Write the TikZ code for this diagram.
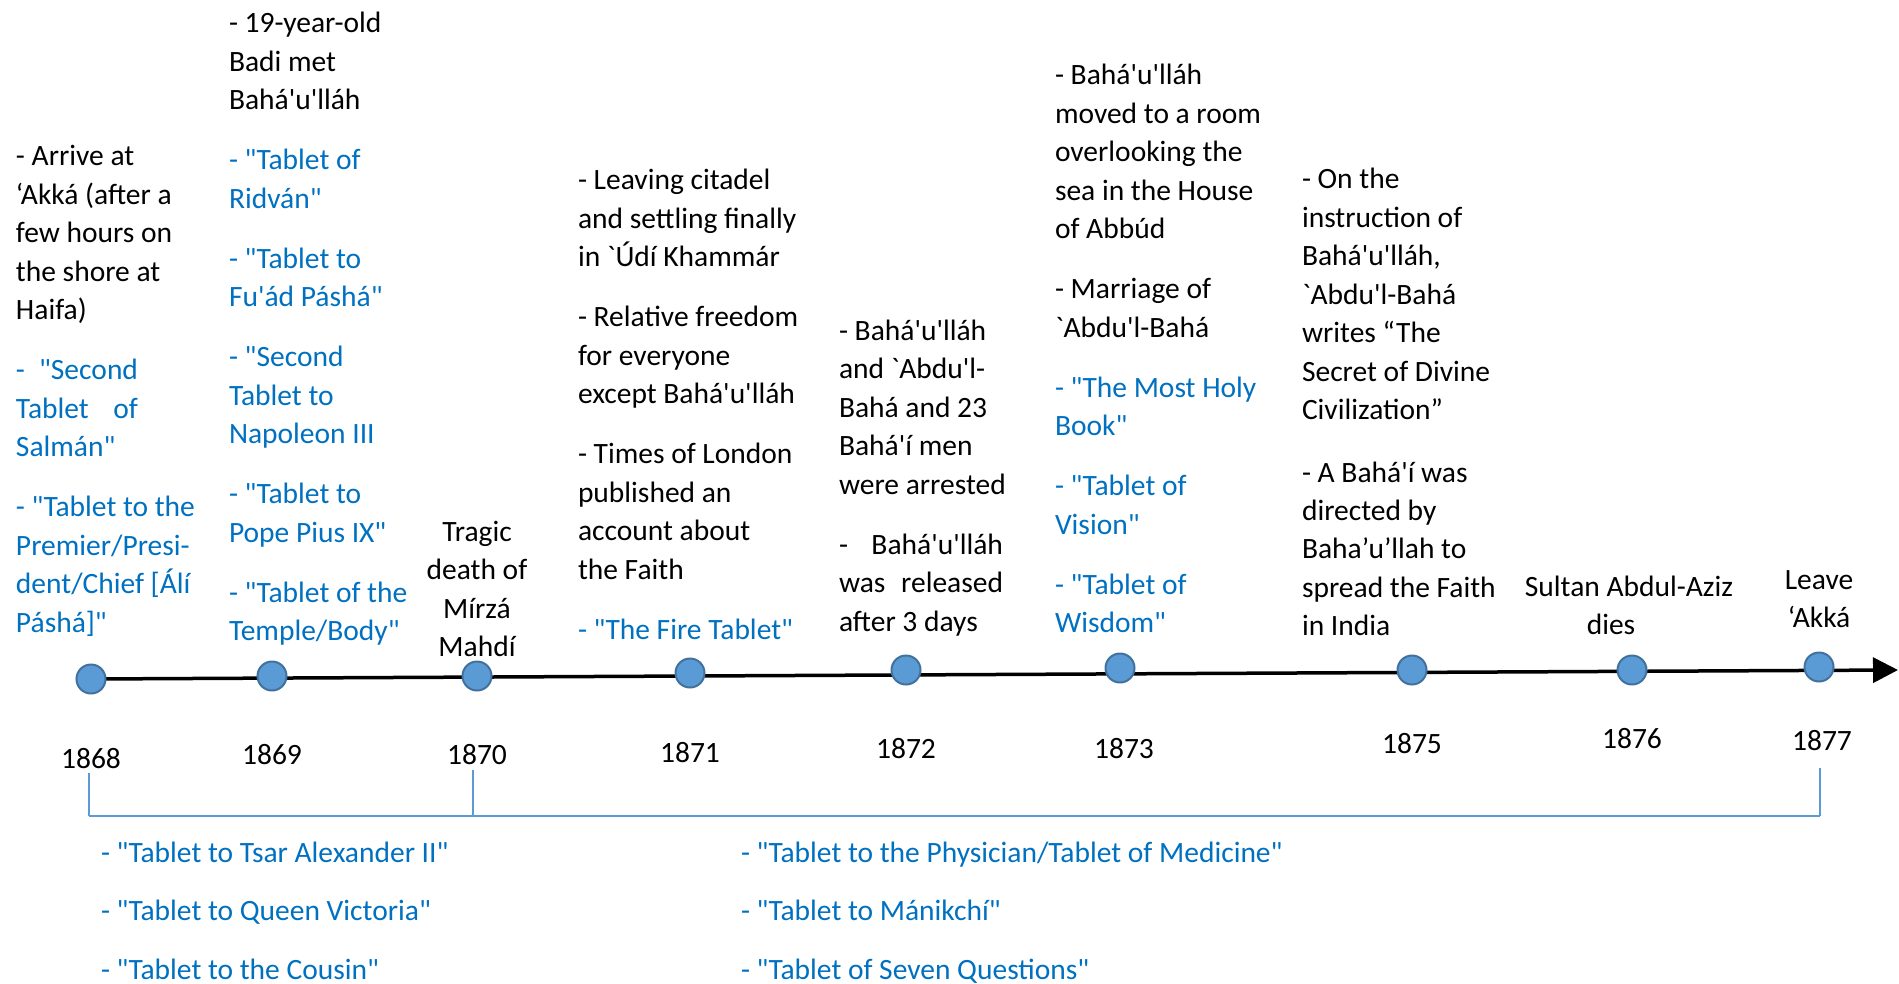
\documentclass[tikz,border=0pt]{standalone}
\usepackage{fontspec}
\setmainfont{Carlito}[Ligatures=TeXOff]
\usetikzlibrary{arrows.meta,backgrounds}
\definecolor{tblue}{HTML}{0070C0}
\definecolor{dotfill}{HTML}{5B9BD5}
\definecolor{dotline}{HTML}{41719C}
\definecolor{brk}{HTML}{5B9BD5}
\newcommand{\mainsz}{\fontsize{14.75pt}{19.25pt}\selectfont}
\newcommand{\pgap}{\\[10.75pt]}
\newcommand{\lblock}[1]{\parbox[t]{250pt}{\mainsz #1}}
\newcommand{\cblock}[1]{\parbox[t]{200pt}{\centering\mainsz #1}}
\tikzset{
  txt/.style={inner sep=0pt, outer sep=0pt, anchor=base west},
  ctxt/.style={inner sep=0pt, outer sep=0pt, anchor=base},
  yr/.style={inner sep=0pt, outer sep=0pt, anchor=base, font=\mainsz},
  bluetxt/.style={txt, text=tblue, font=\mainsz},
  dot/.style={circle, draw=dotline, fill=dotfill, line width=1pt, minimum size=14.5pt, inner sep=0pt},
  timeline/.style={line width=1.75pt, -{Triangle[length=12.5pt,width=12.5pt]}},
  brkv/.style={draw=brk, line width=0.65pt},
  brkh/.style={draw=brk, line width=1.25pt}
}
\begin{document}
\begin{tikzpicture}[x=0.5pt,y=-0.5pt]
\useasboundingbox (0,0) rectangle (1899,984);

% event texts
\node[txt] (t68) at (16,166) {\lblock{- Arrive at\\
‘Akká (after a\\
few hours on\\
the shore at\\
Haifa)\pgap
\color{tblue}\makebox[61pt][s]{-\ \ "Second}\\
\makebox[61pt][s]{Tablet of}\\
Salmán"\pgap
- "Tablet to the\\
Premier/Presi-\\
dent/Chief [Álí\\
Páshá]"}};

\node[txt] (t69) at (229,33) {\lblock{- 19-year-old\\
Badi met\\
Bahá'u'lláh\pgap
\color{tblue}- "Tablet of\\
Ridván"\pgap
- "Tablet to\\
Fu'ád Páshá"\pgap
- "Second\\
Tablet to\\
Napoleon III\pgap
- "Tablet to\\
Pope Pius IX"\pgap
- "Tablet of the\\
Temple/Body"}};

\node[ctxt] (t70) at (477,541) {\cblock{Tragic\\
death of\\
Mírzá\\
Mahdí}};

\node[txt] (t71) at (578,190) {\lblock{- Leaving citadel\\
and settling finally\\
in `Údí Khammár\pgap
- Relative freedom\\
for everyone\\
except Bahá'u'lláh\pgap
- Times of London\\
published an\\
account about\\
the Faith\pgap
\color{tblue}- "The Fire Tablet"}};

\node[txt] (t72) at (839,340) {\lblock{- Bahá'u'lláh\\
and `Abdu'l-\\
Bahá and 23\\
Bahá'í men\\
were arrested\pgap
\makebox[82pt][s]{-\ \ \ Bahá'u'lláh}\\
\makebox[82pt][s]{was released}\\
after 3 days}};

\node[txt] (t73) at (1055,85) {\lblock{- Bahá'u'lláh\\
moved to a room\\
overlooking the\\
sea in the House\\
of Abbúd\pgap
- Marriage of\\
`Abdu'l-Bahá\pgap
\color{tblue}- "The Most Holy\\
Book"\pgap
- "Tablet of\\
Vision"\pgap
- "Tablet of\\
Wisdom"}};

\node[txt] (t75) at (1302,189) {\lblock{- On the\\
instruction of\\
Bahá'u'lláh,\\
`Abdu'l-Bahá\\
writes “The\\
Secret of Divine\\
Civilization”\\[11.75pt]
- A Bahá'í was\\
directed by\\
Baha’u’llah to\\
spread the Faith\\
in India}};

\node[ctxt] (t76) at (1629,596) {\cblock{Sultan Abdul-Aziz\\
dies\hspace*{18pt}}};

\node[ctxt] (t77) at (1819,589) {\cblock{Leave\\
‘Akká}};

% dots
\node[dot] (d68) at (91,679) {};
\node[dot] (d69) at (272,676) {};
\node[dot] (d70) at (477,676) {};
\node[dot] (d71) at (690,673) {};
\node[dot] (d72) at (906,670) {};
\node[dot] (d73) at (1120,668) {};
\node[dot] (d75) at (1412,670) {};
\node[dot] (d76) at (1632,670) {};
\node[dot] (d77) at (1819,667) {};
\coordinate (tip) at (1898,670);
\begin{pgfonlayer}{background}
\draw[timeline] (d68.center) -- (tip);
\end{pgfonlayer}

% years
\node[yr] (y68) at (91,768) {1868};
\node[yr] (y69) at (272,764) {1869};
\node[yr] (y70) at (477,764) {1870};
\node[yr] (y71) at (690,762) {1871};
\node[yr] (y72) at (906,758) {1872};
\node[yr] (y73) at (1124,758) {1873};
\node[yr] (y75) at (1412,753) {1875};
\node[yr] (y76) at (1632,748) {1876};
\node[yr] (y77) at (1822,750) {1877};

% bracket
\coordinate (bl) at (89,773);
\coordinate (bm) at (473,770);
\coordinate (br) at (1820,768);
\coordinate (bl1) at (89,816);
\coordinate (bm1) at (473,816);
\coordinate (br1) at (1820,816);
\draw[brkv] (bl) -- (bl1);
\draw[brkv] (bm) -- (bm1);
\draw[brkv] (br) -- (br1);
\draw[brkh] (bl1) -- (br1);

% bottom tablets
\node[bluetxt] (b1) at (101,862) {- "Tablet to Tsar Alexander II"};
\node[bluetxt] (b2) at (101,920) {- "Tablet to Queen Victoria"};
\node[bluetxt] (b3) at (101,979) {- "Tablet to the Cousin"};
\node[bluetxt] (b4) at (741,862) {- "Tablet to the Physician/Tablet of Medicine"};
\node[bluetxt] (b5) at (741,920) {- "Tablet to Mánikchí"};
\node[bluetxt] (b6) at (741,979) {- "Tablet of Seven Questions"};
\end{tikzpicture}
\end{document}
